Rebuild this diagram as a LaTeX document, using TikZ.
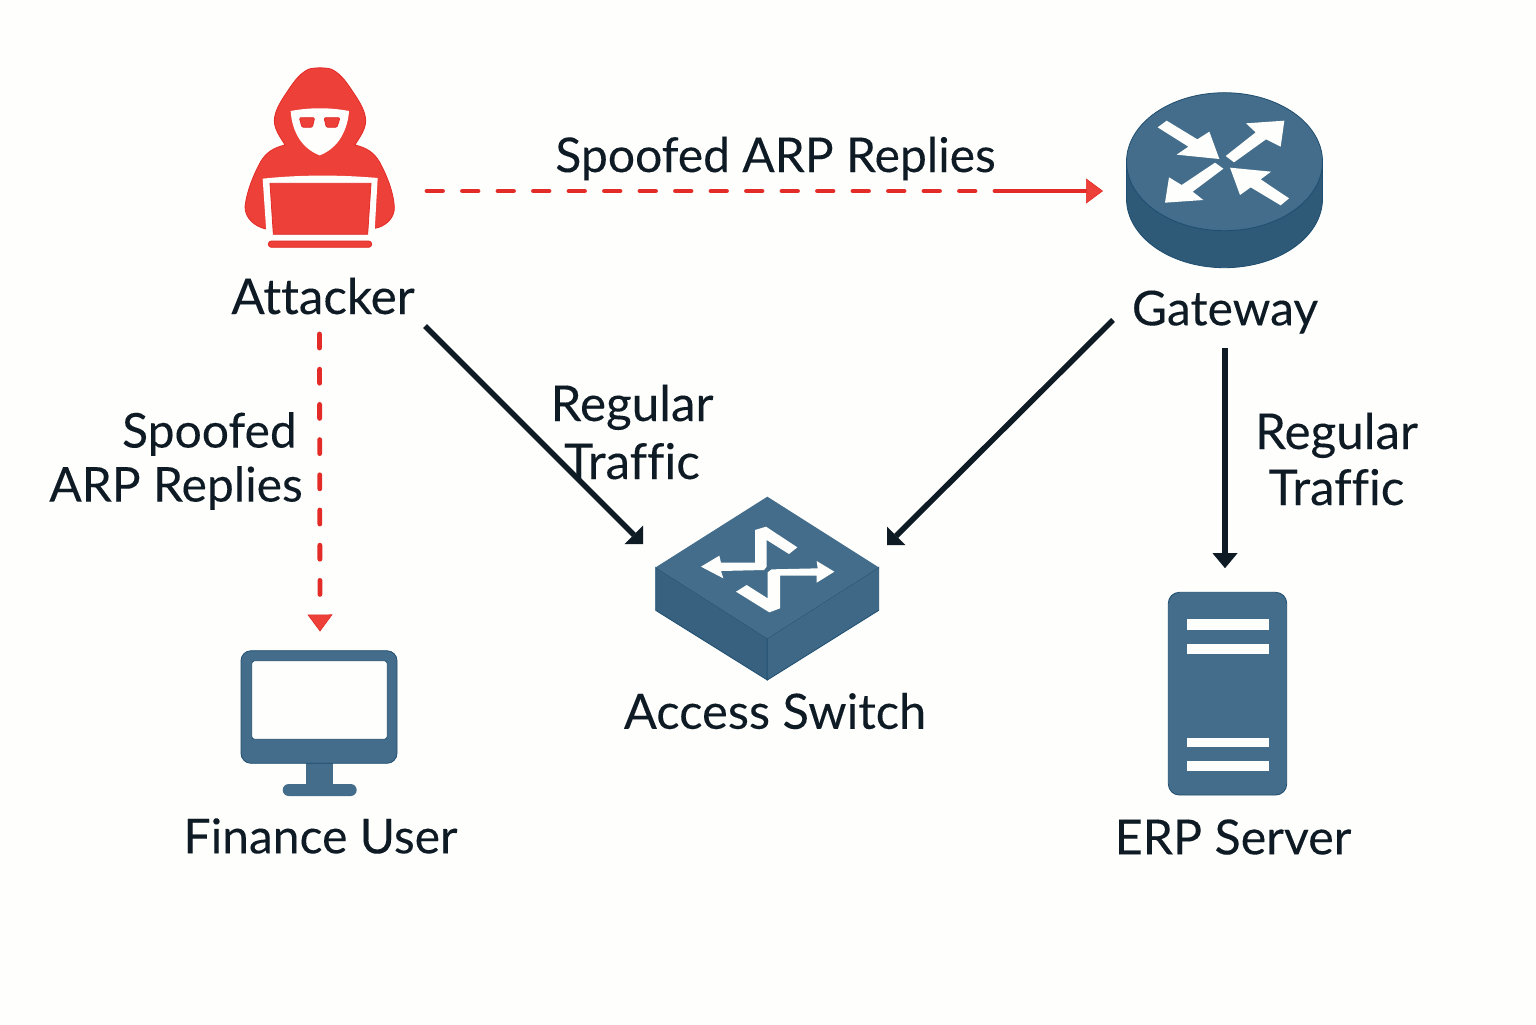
\documentclass[tikz,border=0pt]{standalone}
\usepackage{fontspec}
\setmainfont{Lato}[Ligatures=NoCommon,FakeBold=0.12]
\usetikzlibrary{arrows.meta,calc}
\definecolor{paper}{HTML}{FEFEFC}
\definecolor{ink}{HTML}{0E1B25}
\definecolor{netblue}{HTML}{436D8A}
\definecolor{netedge}{HTML}{1F4E70}
\definecolor{netside}{HTML}{2E5A77}
\definecolor{swleft}{HTML}{37617E}
\definecolor{swright}{HTML}{3E6885}
\definecolor{alert}{HTML}{EC4038}
\definecolor{alertedge}{HTML}{E32B28}
\tikzset{
  iconbox/.style={inner sep=0pt,outer sep=0pt,minimum width=#1},
  label/.style={font=\fontsize{24}{29}\selectfont,text=ink,inner sep=0pt,align=center},
  wide label/.style={font=\fontsize{24.7}{29}\selectfont,text=ink,inner sep=0pt,align=center},
  black link/.style={draw=ink,line width=2.8pt,-{Triangle[length=6.5pt,width=13pt,fill=ink,line width=0pt]}},
  down link/.style={draw=ink,line width=2.6pt,-{Triangle[length=7.5pt,width=12.5pt,fill=ink,line width=0pt]}},
  red link/.style={draw=alertedge,line width=2.4pt,line cap=round,-{Triangle[length=8.5pt,width=12.5pt,fill=alert,line width=0.3pt,sharp]}},
  blue/.style={fill=netblue,draw=netedge,line width=.4pt},
  white mark/.style={fill=paper,draw=none},
  red shape/.style={fill=alert,draw=alertedge,line width=.4pt},
}
\begin{document}
\begin{tikzpicture}[x=0.5pt,y=-0.5pt]
\useasboundingbox (0,0) rectangle (1536,1024);
\fill[paper] (0,0) rectangle (1536,1024);

% Attacker icon (zoom coordinates)
\begin{scope}[shift={(220,50)},x=0.1666667pt,y=-0.1666667pt]
\path[red shape] (265,58) .. controls (280,52) and (320,52) .. (335,58)
  .. controls (365,72) and (385,105) .. (405,135)
  .. controls (425,165) and (437,190) .. (437,212)
  .. controls (437,240) and (418,262) .. (405,285)
  .. controls (440,293) and (462,308) .. (478,335)
  .. controls (500,375) and (520,425) .. (523,470)
  .. controls (525,505) and (495,530) .. (464,535)
  -- (138,537)
  .. controls (105,530) and (75,505) .. (75,470)
  .. controls (80,425) and (100,375) .. (122,335)
  .. controls (138,308) and (160,293) .. (195,285)
  .. controls (182,262) and (163,240) .. (163,212)
  .. controls (163,190) and (175,165) .. (195,135)
  .. controls (215,105) and (235,72) .. (265,58) -- cycle;
\path[white mark] (128,386) .. controls (240,374) and (360,374) .. (473,384)
  -- (463,560) -- (140,560) -- cycle;
\path[red shape] (150,400) -- (453,400) -- (443,553) -- (160,553) -- cycle;
\path[red shape,rounded corners=1.5pt] (145,573) rectangle (455,592);
\path[white mark] (212,183) .. controls (270,172) and (330,172) .. (387,183)
  .. controls (385,215) and (375,245) .. (358,270)
  .. controls (342,293) and (320,308) .. (299,316)
  .. controls (278,308) and (256,293) .. (240,270)
  .. controls (223,245) and (214,215) .. (212,183) -- cycle;
\path[red shape,rounded corners=0.7pt] (238,203) -- (284,203) -- (277,232) -- (246,232) -- cycle;
\path[red shape,rounded corners=0.7pt] (312,203) -- (360,203) -- (351,232) -- (319,232) -- cycle;
\end{scope}
\node[iconbox=75pt,minimum height=90pt] (attacker) at (320,158) {};

% Gateway icon
\path[fill=netside,draw=netedge,line width=.4pt]
  (1126.5,161.7) -- (1126.5,198.7) arc[start angle=180,end angle=360,x radius=98,y radius=-69]
  -- (1322.5,161.7) -- cycle;
\path[blue] (1224.5,161.7) ellipse[x radius=98,y radius=69];
\begin{scope}[shift={(1110,80)},x=0.1666667pt,y=-0.1666667pt]
\path[white mark] (170,122) -- (262,178) -- (298,155) -- (328,237) -- (200,224) -- (235,200) -- (143,142) -- cycle;
\path[white mark] (372,247) -- (347,228) -- (437,157) -- (408,130) -- (523,122) -- (512,200) -- (468,178) -- cycle;
\path[white mark] (315,248) -- (340,266) -- (248,335) -- (280,360) -- (165,368) -- (177,292) -- (215,315) -- cycle;
\path[white mark] (537,355) -- (512,376) -- (422,322) -- (390,345) -- (360,263) -- (483,275) -- (452,298) -- cycle;
\end{scope}
\node[iconbox=98.5pt,minimum height=87.5pt] (gateway) at (1224.5,180.5) {};

% Switch icon
\begin{scope}[shift={(640,485)},x=0.1666667pt,y=-0.1666667pt]
\path[fill=swleft,draw=netedge,line width=.4pt] (47,247) -- (382,460) -- (382,585) -- (47,376) -- cycle;
\path[fill=swright,draw=netedge,line width=.4pt] (716,247) -- (716,376) -- (382,585) -- (382,460) -- cycle;
\path[blue,draw=none] (382,35) -- (716,247) -- (382,460) -- (47,247) -- cycle;
\path[white mark] (183,245) -- (238,212) -- (243,233) -- (345,233) -- (345,135) -- (378,125) -- (472,187) -- (447,207) -- (380,165) -- (380,245) -- (372,255) -- (243,258) -- (250,280) -- cycle;
\path[white mark] (583,260) -- (530,228) -- (533,250) -- (395,253) -- (383,262) -- (383,340) -- (320,300) -- (288,320) -- (388,382) -- (420,370) -- (420,272) -- (530,272) -- (530,293) -- cycle;
\end{scope}
\node[iconbox=111.5pt,minimum height=92pt] (switch) at (767.5,588) {};

% Finance user monitor
\path[fill=netblue] (306,760) rectangle (333,786);
\path[fill=netblue,rounded corners=3pt] (282.7,784) rectangle (356.7,796);
\path[blue,rounded corners=5pt] (241,650.7) rectangle (397,763.3);
\path[fill=paper,draw=netedge,line width=.4pt,rounded corners=1.5pt] (251.7,660.7) rectangle (387.3,739.3);
\node[iconbox=78pt,minimum height=73pt] (monitor) at (319,723.5) {};

% ERP server
\path[blue,rounded corners=5.5pt] (1168.3,592.3) rectangle (1286.7,795);
\foreach \ya/\yb in {619.3/630,643.7/654,738.3/747.3,761/770.7}
  \path[white mark] (1186.7,\ya) rectangle (1269.3,\yb);
\node[iconbox=59pt,minimum height=101.5pt] (server) at (1227.5,693.7) {};

% Connectors
\draw[red link,dash pattern=on 7.75pt off 10pt on 7.75pt off 10pt on 7.75pt off 10pt on 7.75pt off 10pt on 7.75pt off 10pt on 7.75pt off 10pt on 7.75pt off 10pt on 7.75pt off 10pt on 7.75pt off 10pt on 7.75pt off 10pt on 7.75pt off 10pt on 7.75pt off 10pt on 7.75pt off 10pt on 7.75pt off 10pt on 7.75pt off 10pt on 7.75pt off 10pt on 80pt off 0pt]
  ([shift={(32,33)}]attacker.east) -- ([shift={(-23,10.5)}]gateway.west);
\draw[red link,dash pattern=on 7pt off 10.6pt]
  ([shift={(-0.5,86)}]attacker.south) -- ([shift={(1,-19)}]monitor.north);
\draw[black link] ([shift={(30,78)}]attacker.south east) -- ([shift={(-13,-44)}]switch.west);
\draw[black link] ([shift={(-13,52)}]gateway.south west) -- ([shift={(8,-43)}]switch.east);
\draw[down link] ([shift={(0.5,80)}]gateway.south) -- ([shift={(-2.5,-24)}]server.north);

% Labels
\node[wide label] (lblattacker) at (323,296) {Attacker};
\node[label] (lblgateway) at (1225,312) {Gateway};
\node[label,font=\fontsize{24.4}{29}\selectfont] (lblswitch) at (775,711) {Access Switch};
\node[label] (lblfinance) at (320.5,836) {Finance User};
\node[label,font=\fontsize{24.2}{29}\selectfont] (lblerp) at (1233,837) {ERP Server};
\node[label] (lblspooftop) at (775.5,158.5) {Spoofed ARP Replies};
\node[label,align=right] (lblspoofleft) at (176,461) {\mbox{Spoofed\kern3pt}\\[-2pt]ARP Replies};
\node[wide label] (lblregleft) at (632,432) {Regular\\Traffic};
\node[wide label] (lblregright) at (1336.5,459) {Regular\\[-1pt]Traffic};
\end{tikzpicture}
\end{document}
